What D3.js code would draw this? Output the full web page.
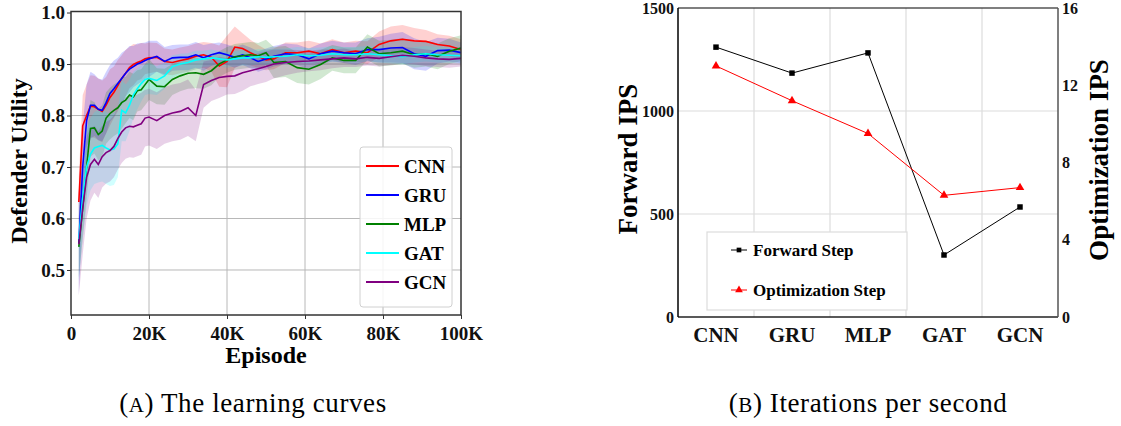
<!DOCTYPE html>
<html>
<head>
<meta charset="utf-8">
<script src="https://cdn.jsdelivr.net/npm/d3@7"></script>
<style>
  body { margin: 0; background: #fff; }
  svg text { font-family: "Liberation Serif", "DejaVu Serif", serif; }
</style>
</head>
<body>
<svg id="chart" width="1121" height="426" font-family="Liberation Serif, DejaVu Serif, serif"></svg>
<script>
// ---- data: learning curves (episode in thousands) ----
const episodes = [2, 3, 4, 5, 6, 7, 8, 9, 10, 11,
  12, 13, 14, 15, 16, 17, 18, 19, 20, 22,
  24, 26, 28, 30, 32, 34, 36, 38, 40, 42,
  44, 46, 48, 50, 52, 55, 58, 61, 64, 67,
  70, 73, 76, 79, 82, 85, 88, 91, 94, 97,
  100];

const cnnMean = [0.632, 0.780, 0.800, 0.818, 0.817, 0.812, 0.808, 0.820, 0.835, 0.845,
  0.858, 0.872, 0.882, 0.893, 0.899, 0.903, 0.906, 0.910, 0.912, 0.913,
  0.905, 0.903, 0.907, 0.910, 0.915, 0.918, 0.913, 0.896, 0.905, 0.933,
  0.930, 0.922, 0.915, 0.908, 0.910, 0.922, 0.922, 0.925, 0.920, 0.928,
  0.922, 0.925, 0.922, 0.938, 0.945, 0.948, 0.945, 0.944, 0.938, 0.935,
  0.928];
const cnnSpread = [0.050, 0.060, 0.060, 0.060, 0.060, 0.060, 0.060, 0.055, 0.055, 0.050,
  0.050, 0.045, 0.045, 0.040, 0.040, 0.035, 0.035, 0.030, 0.030, 0.028,
  0.025, 0.025, 0.025, 0.025, 0.025, 0.025, 0.028, 0.040, 0.050, 0.040,
  0.030, 0.025, 0.022, 0.020, 0.020, 0.020, 0.020, 0.020, 0.020, 0.020,
  0.020, 0.020, 0.022, 0.025, 0.028, 0.028, 0.025, 0.022, 0.020, 0.020,
  0.020];

const gruMean = [0.552, 0.700, 0.790, 0.820, 0.820, 0.812, 0.810, 0.825, 0.843, 0.852,
  0.862, 0.872, 0.882, 0.890, 0.895, 0.900, 0.903, 0.907, 0.910, 0.915,
  0.905, 0.912, 0.913, 0.913, 0.918, 0.912, 0.918, 0.922, 0.918, 0.913,
  0.918, 0.912, 0.905, 0.910, 0.915, 0.920, 0.918, 0.910, 0.920, 0.925,
  0.922, 0.920, 0.928, 0.928, 0.931, 0.932, 0.920, 0.915, 0.926, 0.927,
  0.922];
const gruSpread = [0.100, 0.080, 0.070, 0.065, 0.060, 0.060, 0.060, 0.060, 0.055, 0.055,
  0.050, 0.050, 0.045, 0.045, 0.040, 0.040, 0.038, 0.035, 0.035, 0.030,
  0.028, 0.025, 0.025, 0.025, 0.025, 0.025, 0.022, 0.020, 0.020, 0.020,
  0.020, 0.020, 0.020, 0.020, 0.020, 0.020, 0.020, 0.020, 0.020, 0.020,
  0.020, 0.022, 0.022, 0.025, 0.028, 0.030, 0.030, 0.028, 0.025, 0.022,
  0.020];

const mlpMean = [0.545, 0.620, 0.700, 0.775, 0.776, 0.763, 0.770, 0.795, 0.804, 0.810,
  0.815, 0.825, 0.830, 0.840, 0.836, 0.848, 0.850, 0.860, 0.870, 0.857,
  0.856, 0.870, 0.877, 0.882, 0.883, 0.880, 0.887, 0.900, 0.908, 0.914,
  0.916, 0.918, 0.916, 0.922, 0.903, 0.905, 0.893, 0.890, 0.899, 0.912,
  0.907, 0.907, 0.933, 0.920, 0.922, 0.925, 0.918, 0.920, 0.915, 0.925,
  0.931];
const mlpSpread = [0.060, 0.060, 0.060, 0.055, 0.050, 0.050, 0.050, 0.050, 0.050, 0.050,
  0.050, 0.050, 0.045, 0.045, 0.045, 0.040, 0.040, 0.040, 0.040, 0.035,
  0.035, 0.030, 0.030, 0.030, 0.030, 0.028, 0.028, 0.025, 0.025, 0.025,
  0.025, 0.025, 0.025, 0.025, 0.030, 0.030, 0.030, 0.030, 0.028, 0.025,
  0.025, 0.025, 0.025, 0.025, 0.025, 0.025, 0.025, 0.025, 0.025, 0.025,
  0.025];

const gatMean = [0.560, 0.640, 0.700, 0.725, 0.737, 0.740, 0.742, 0.737, 0.733, 0.735,
  0.745, 0.810, 0.805, 0.820, 0.840, 0.852, 0.862, 0.870, 0.872, 0.868,
  0.877, 0.895, 0.900, 0.903, 0.908, 0.910, 0.912, 0.910, 0.908, 0.910,
  0.912, 0.912, 0.914, 0.913, 0.914, 0.915, 0.918, 0.916, 0.917, 0.920,
  0.918, 0.918, 0.920, 0.918, 0.916, 0.914, 0.918, 0.920, 0.918, 0.917,
  0.916];
const gatSpread = [0.080, 0.080, 0.075, 0.070, 0.070, 0.070, 0.070, 0.070, 0.070, 0.070,
  0.065, 0.060, 0.055, 0.050, 0.045, 0.040, 0.035, 0.030, 0.030, 0.028,
  0.025, 0.022, 0.020, 0.018, 0.018, 0.016, 0.016, 0.015, 0.015, 0.015,
  0.015, 0.015, 0.015, 0.015, 0.015, 0.015, 0.015, 0.015, 0.015, 0.015,
  0.015, 0.015, 0.015, 0.015, 0.015, 0.015, 0.015, 0.015, 0.015, 0.015,
  0.015];

const gcnMean = [0.550, 0.620, 0.680, 0.705, 0.715, 0.705, 0.720, 0.728, 0.732, 0.740,
  0.755, 0.768, 0.776, 0.779, 0.778, 0.781, 0.784, 0.795, 0.797, 0.790,
  0.800, 0.805, 0.808, 0.815, 0.800, 0.860, 0.868, 0.874, 0.876, 0.877,
  0.883, 0.887, 0.891, 0.895, 0.900, 0.903, 0.905, 0.906, 0.908, 0.910,
  0.912, 0.910, 0.913, 0.911, 0.914, 0.917, 0.915, 0.912, 0.910, 0.909,
  0.911];
const gcnSpread = [0.100, 0.090, 0.080, 0.070, 0.065, 0.065, 0.060, 0.060, 0.060, 0.060,
  0.060, 0.060, 0.060, 0.060, 0.060, 0.060, 0.060, 0.055, 0.055, 0.055,
  0.055, 0.055, 0.055, 0.055, 0.050, 0.045, 0.040, 0.040, 0.035, 0.035,
  0.035, 0.030, 0.030, 0.030, 0.028, 0.025, 0.022, 0.020, 0.020, 0.018,
  0.018, 0.016, 0.016, 0.016, 0.016, 0.016, 0.016, 0.016, 0.016, 0.016,
  0.016];

const seriesNames = ['CNN', 'GRU', 'MLP', 'GAT', 'GCN'];
const seriesColors = ['#ff0000', '#0000ff', '#008000', '#00ffff', '#800080'];
const seriesMeans = [cnnMean, gruMean, mlpMean, gatMean, gcnMean];
const seriesSpreads = [cnnSpread, gruSpread, mlpSpread, gatSpread, gcnSpread];

const episodeTicks = [0, 20, 40, 60, 80, 100];
const episodeTickLabels = ['0', '20K', '40K', '60K', '80K', '100K'];
const utilityTicks = [0.5, 0.6, 0.7, 0.8, 0.9, 1.0];

// ---- data: iterations per second ----
const models = ['CNN', 'GRU', 'MLP', 'GAT', 'GCN'];
const forwardIps = [1310, 1184, 1282, 301, 534];
const optimizationIps = [13.0, 11.2, 9.5, 6.3, 6.7];
const forwardTicks = [0, 500, 1000, 1500];
const optimizationTicks = [0, 4, 8, 12, 16];

const SERIF = 'Liberation Serif, DejaVu Serif, serif';
const svg = d3.select('#chart');

// =============== (A) learning curves ===============
const a = { left: 71, right: 461, top: 11.5, bottom: 315 };

const x = d3.scaleLinear().domain([0, 100]).range([a.left, a.right]);
const y = d3.scaleLinear().domain([0.4126, 1.002]).range([a.bottom, a.top]);

const gA = svg.append('g');

// grid
gA.append('g')
  .selectAll('line')
  .data(episodeTicks.slice(1, -1))
  .enter()
  .append('line')
  .attr('x1', d => x(d)).attr('x2', d => x(d))
  .attr('y1', a.top).attr('y2', a.bottom)
  .attr('stroke', '#b8b8b8').attr('stroke-width', 1);

gA.append('g')
  .selectAll('line')
  .data(utilityTicks.slice(0, -1))
  .enter()
  .append('line')
  .attr('x1', a.left).attr('x2', a.right)
  .attr('y1', d => y(d)).attr('y2', d => y(d))
  .attr('stroke', '#b8b8b8').attr('stroke-width', 1);

svg.append('defs').append('clipPath').attr('id', 'clipA')
  .append('rect')
  .attr('x', a.left).attr('y', a.top)
  .attr('width', a.right - a.left).attr('height', a.bottom - a.top);

const plotA = gA.append('g').attr('clip-path', 'url(#clipA)');

// bands
seriesNames.forEach((name, s) => {
  const rows = episodes.map((e, i) => ({ e, m: seriesMeans[s][i], sp: seriesSpreads[s][i] }));
  const band = d3.area()
    .x(d => x(d.e))
    .y0(d => y(d.m - d.sp))
    .y1(d => y(d.m + d.sp));
  plotA.append('path')
    .datum(rows)
    .attr('fill', seriesColors[s])
    .attr('fill-opacity', 0.18)
    .attr('d', band);
});

// mean lines
seriesNames.forEach((name, s) => {
  const rows = episodes.map((e, i) => ({ e, m: seriesMeans[s][i] }));
  const line = d3.line()
    .x(d => x(d.e))
    .y(d => y(d.m));
  plotA.append('path')
    .datum(rows)
    .attr('fill', 'none')
    .attr('stroke', seriesColors[s])
    .attr('stroke-width', 1.6)
    .attr('d', line);
});

// axes
const xAxisA = gA.append('g')
  .attr('transform', `translate(0,${a.bottom})`)
  .call(d3.axisBottom(x).tickValues(episodeTicks).tickSize(4).tickFormat((d, i) => episodeTickLabels[i]));
const yAxisA = gA.append('g')
  .attr('transform', `translate(${a.left},0)`)
  .call(d3.axisLeft(y).tickValues(utilityTicks).tickSize(4).tickFormat(d3.format('.1f')));

[xAxisA, yAxisA].forEach(g => {
  g.attr('font-family', SERIF);
  g.select('.domain').remove();
  g.selectAll('.tick line').attr('stroke', '#333');
  g.selectAll('.tick text')
    .attr('font-size', 19)
    .attr('font-weight', 'bold')
    .attr('fill', '#111');
});
xAxisA.selectAll('.tick text').attr('dy', '0.95em');
yAxisA.selectAll('.tick text').attr('x', -6);

gA.append('rect')
  .attr('x', a.left).attr('y', a.top)
  .attr('width', a.right - a.left).attr('height', a.bottom - a.top)
  .attr('fill', 'none').attr('stroke', '#333').attr('stroke-width', 1.5);

gA.append('text')
  .attr('x', (a.left + a.right) / 2).attr('y', 363)
  .attr('text-anchor', 'middle')
  .attr('font-size', 24).attr('font-weight', 'bold')
  .text('Episode');

gA.append('text')
  .attr('transform', 'translate(27,161) rotate(-90)')
  .attr('text-anchor', 'middle')
  .attr('font-size', 24).attr('font-weight', 'bold')
  .text('Defender Utility');

// legend
const legA = gA.append('g');
legA.append('rect')
  .attr('x', 360).attr('y', 147).attr('width', 92).attr('height', 160)
  .attr('rx', 3)
  .attr('fill', '#fff').attr('fill-opacity', 0.85)
  .attr('stroke', '#d0d0d0');
seriesNames.forEach((name, s) => {
  const ly = 166 + s * 29;
  legA.append('line')
    .attr('x1', 366).attr('x2', 399).attr('y1', ly).attr('y2', ly)
    .attr('stroke', seriesColors[s]).attr('stroke-width', 2);
  legA.append('text')
    .attr('x', 404).attr('y', ly).attr('dy', '0.35em')
    .attr('font-size', 19).attr('font-weight', 'bold')
    .text(name);
});

// caption
const capA = gA.append('text')
  .attr('x', 253).attr('y', 412)
  .attr('text-anchor', 'middle')
  .attr('font-size', 27).attr('letter-spacing', 0.6);
capA.append('tspan').text('(');
capA.append('tspan').attr('font-size', 21).text('A');
capA.append('tspan').text(') The learning curves');

// =============== (B) iterations per second ===============
const b = { left: 678, right: 1058, top: 8, bottom: 317 };

const xb = d3.scaleBand().domain(models).range([b.left, b.right]).padding(0);
const yF = d3.scaleLinear().domain([0, 1500]).range([b.bottom, b.top]);
const yO = d3.scaleLinear().domain([0, 16]).range([b.bottom, b.top]);
const cx = d => xb(d) + xb.bandwidth() / 2;

const gB = svg.append('g');

gB.append('g')
  .selectAll('line')
  .data(models.slice(1))
  .enter()
  .append('line')
  .attr('x1', d => xb(d)).attr('x2', d => xb(d))
  .attr('y1', b.top).attr('y2', b.bottom)
  .attr('stroke', '#dcdcdc').attr('stroke-width', 1.2);

gB.append('g')
  .selectAll('line')
  .data(forwardTicks.slice(1, -1))
  .enter()
  .append('line')
  .attr('x1', b.left).attr('x2', b.right)
  .attr('y1', d => yF(d)).attr('y2', d => yF(d))
  .attr('stroke', '#dcdcdc').attr('stroke-width', 1.2);

// spines
gB.append('line').attr('x1', b.left).attr('x2', b.right).attr('y1', b.top).attr('y2', b.top)
  .attr('stroke', '#000').attr('stroke-width', 1.2);
gB.append('line').attr('x1', b.left).attr('x2', b.right).attr('y1', b.bottom).attr('y2', b.bottom)
  .attr('stroke', '#222').attr('stroke-width', 1.5);
gB.append('line').attr('x1', b.left).attr('x2', b.left).attr('y1', b.top).attr('y2', b.bottom)
  .attr('stroke', '#000').attr('stroke-width', 1.5);
gB.append('line').attr('x1', b.right).attr('x2', b.right).attr('y1', b.top).attr('y2', b.bottom)
  .attr('stroke', '#555').attr('stroke-width', 1.5);

const fwdRows = models.map((m, i) => ({ m, v: forwardIps[i] }));
const optRows = models.map((m, i) => ({ m, v: optimizationIps[i] }));

gB.append('path')
  .datum(fwdRows)
  .attr('fill', 'none').attr('stroke', '#000').attr('stroke-width', 1)
  .attr('d', d3.line().x(d => cx(d.m)).y(d => yF(d.v)));
gB.append('g')
  .selectAll('path')
  .data(fwdRows)
  .enter()
  .append('path')
  .attr('transform', d => `translate(${cx(d.m)},${yF(d.v)})`)
  .attr('d', d3.symbol(d3.symbolSquare, 30))
  .attr('fill', '#000');

gB.append('path')
  .datum(optRows)
  .attr('fill', 'none').attr('stroke', '#ff0000').attr('stroke-width', 1)
  .attr('d', d3.line().x(d => cx(d.m)).y(d => yO(d.v)));
gB.append('g')
  .selectAll('path')
  .data(optRows)
  .enter()
  .append('path')
  .attr('transform', d => `translate(${cx(d.m)},${yO(d.v)})`)
  .attr('d', d3.symbol(d3.symbolTriangle, 32))
  .attr('fill', '#ff0000');

// axes
const xAxisB = gB.append('g')
  .attr('transform', `translate(0,${b.bottom})`)
  .call(d3.axisBottom(xb).tickSize(0));
const yAxisF = gB.append('g')
  .attr('transform', `translate(${b.left},0)`)
  .call(d3.axisLeft(yF).tickValues(forwardTicks).tickSize(0).tickFormat(d3.format('d')));
const yAxisO = gB.append('g')
  .attr('transform', `translate(${b.right},0)`)
  .call(d3.axisRight(yO).tickValues(optimizationTicks).tickSize(0).tickFormat(d3.format('d')));

[xAxisB, yAxisF, yAxisO].forEach(g => {
  g.attr('font-family', SERIF);
  g.select('.domain').remove();
  g.selectAll('.tick text')
    .attr('font-weight', 'bold')
    .attr('fill', '#111');
});
xAxisB.selectAll('.tick text').attr('font-size', 21).attr('y', 9).attr('dy', '0.75em');
yAxisF.selectAll('.tick text').attr('font-size', 16).attr('x', -4);
yAxisO.selectAll('.tick text').attr('font-size', 16).attr('x', 4);

gB.append('text')
  .attr('transform', 'translate(637,159) rotate(-90)')
  .attr('text-anchor', 'middle')
  .attr('font-size', 27).attr('font-weight', 'bold')
  .text('Forward IPS');
gB.append('text')
  .attr('transform', 'translate(1108,160) rotate(-90)')
  .attr('text-anchor', 'middle')
  .attr('font-size', 27).attr('font-weight', 'bold')
  .text('Optimization IPS');

// legend
const legB = gB.append('g');
legB.append('rect')
  .attr('x', 707).attr('y', 232).attr('width', 200).attr('height', 78)
  .attr('fill', '#fff').attr('stroke', '#dcdcdc').attr('stroke-width', 1.2);
const legItems = [
  { label: 'Forward Step', color: '#000', symbol: d3.symbolSquare, size: 22 },
  { label: 'Optimization Step', color: '#ff0000', symbol: d3.symbolTriangle, size: 26 }
];
legItems.forEach((it, i) => {
  const ly = 250 + i * 40;
  legB.append('line')
    .attr('x1', 731).attr('x2', 747).attr('y1', ly).attr('y2', ly)
    .attr('stroke', it.color).attr('stroke-width', 1);
  legB.append('path')
    .attr('transform', `translate(739,${ly})`)
    .attr('d', d3.symbol(it.symbol, it.size))
    .attr('fill', it.color);
  legB.append('text')
    .attr('x', 753).attr('y', ly).attr('dy', '0.35em')
    .attr('font-size', 17).attr('font-weight', 'bold')
    .text(it.label);
});

const capB = gB.append('text')
  .attr('x', 868).attr('y', 412)
  .attr('text-anchor', 'middle')
  .attr('font-size', 27).attr('letter-spacing', 0.6);
capB.append('tspan').text('(');
capB.append('tspan').attr('font-size', 21).text('B');
capB.append('tspan').text(') Iterations per second');
</script>
</body>
</html>
